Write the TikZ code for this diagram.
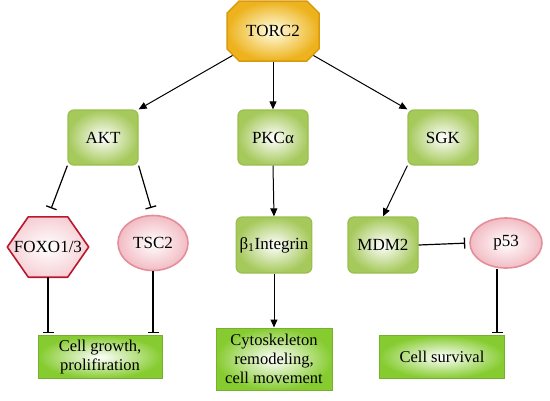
\documentclass[tikz,border=0pt]{standalone}
\usepackage{fontspec}
\setmainfont{Liberation Serif}
\usetikzlibrary{arrows.meta,shapes.geometric,shapes.misc}
\definecolor{torcgold}{HTML}{EDB21C}
\definecolor{torcedge}{HTML}{D99A10}
\definecolor{leafgreen}{HTML}{A6C95C}
\definecolor{leafedge}{HTML}{9BBE4E}
\definecolor{limegreen}{HTML}{86CC30}
\definecolor{limeedge}{HTML}{76B02E}
\definecolor{rosefill}{HTML}{F2BCC4}
\definecolor{roseedge}{HTML}{E38E9A}
\definecolor{foxored}{HTML}{B8182C}
\tikzset{
  pathway text/.style={font=\fontsize{17}{19}\selectfont},
  torc octagon/.style={chamfered rectangle, chamfered rectangle xsep=14pt,
    draw=torcedge, line width=1.5pt, inner color=yellow!10, outer color=torcgold,
    minimum width=92pt, minimum height=60pt, pathway text},
  kinase box/.style={draw=leafedge, line width=1.3pt, rounded corners=6pt,
    inner color=white, outer color=leafgreen, minimum width=70pt,
    minimum height=55pt, pathway text},
  hexa text/.style={inner sep=0pt, minimum width=81pt, minimum height=60pt,
    pathway text},
  hexa rim/.style={draw=foxored, line width=1.6pt, line join=round,
    inner color=white, outer color=rosefill!70},
  oval target/.style={ellipse, draw=roseedge, line width=1.6pt, inner color=white,
    outer color=rosefill, minimum width=70pt, minimum height=55pt, pathway text},
  outcome box/.style={draw=limeedge, line width=1pt, inner color=white,
    outer color=limegreen, align=center, font=\fontsize{16.5}{19}\selectfont},
  activate/.style={-{Triangle[length=8pt,width=7pt]}, line width=1pt},
  inhibit/.style={-{Bar[width=11pt,line width=1.3pt]}, line width=1.2pt}
}

\begin{document}
\begin{tikzpicture}[x=1pt,y=-1pt]
  \useasboundingbox (0,0) rectangle (550,400);

  % kinases
  \node[torc octagon] (torc) at (273,31) {TORC2};
  \node[kinase box] (akt) at (103,137.5) {AKT};
  \node[kinase box] (pkc) at (273,137.5) {PKCα};
  \node[kinase box] (sgk) at (443,137.5) {SGK};

  % targets
  \node[hexa text] (foxo) at (48,247) {};
  \fill[foxored,xshift=-3pt,yshift=2pt] (foxo.west)
    -- ([xshift=21pt]foxo.north west) -- ([xshift=-21pt]foxo.north east)
    -- (foxo.east) -- ([xshift=-21pt]foxo.south east)
    -- ([xshift=21pt]foxo.south west) -- cycle;
  \path[hexa rim] (foxo.west)
    -- ([xshift=21pt]foxo.north west) -- ([xshift=-21pt]foxo.north east)
    -- (foxo.east) -- ([xshift=-21pt]foxo.south east)
    -- ([xshift=21pt]foxo.south west) -- cycle;
  \node[pathway text] at (foxo) {FOXO1/3};
  \node[oval target] (tsc) at (153,243) {TSC2};
  \node[kinase box,minimum width=72pt,minimum height=56pt] (integrin)
    at (274,245) {β\textsubscript{1}Integrin};
  \node[kinase box,minimum height=56pt] (mdm) at (383,245) {MDM2};
  \node[oval target,minimum width=72pt,minimum height=50pt] (p53)
    at (506,243) {p53};

  % outcomes
  \node[outcome box,minimum width=124pt,minimum height=43pt] (growth)
    at (100,357) {Cell growth,\\prolifiration};
  \node[outcome box,minimum width=116pt,minimum height=62pt] (cyto)
    at (274,359) {Cytoskeleton\\remodeling,\\cell movement};
  \node[outcome box,minimum width=125pt,minimum height=43pt] (survival)
    at (442,357) {Cell survival};

  \draw[activate] (torc.south west) -- (akt.north east);
  \draw[activate] (torc.south) -- (pkc.north);
  \draw[activate] (torc.south east) -- (sgk.north west);

  \draw[inhibit,shorten >=9pt] (akt.south west) -- (foxo.north);
  \draw[inhibit,shorten >=7pt] (akt.south east) -- (tsc.north);
  \draw[activate] (pkc.south) -- (integrin.north);
  \draw[activate] (sgk.south west) -- (mdm.north);
  \draw[inhibit,shorten >=4pt] (mdm.east) -- (p53.west);

  \draw[inhibit,shorten >=2pt] (foxo.south) -- (foxo.south |- growth.north);
  \draw[inhibit,shorten >=2pt] (tsc.south) -- (tsc.south |- growth.north);
  \draw[activate] (integrin.south) -- (integrin.south |- cyto.north);
  \draw[inhibit,shorten >=2pt] ([xshift=-9pt]p53.south)
    -- ([xshift=-9pt]p53.south |- survival.north);
\end{tikzpicture}
\end{document}
